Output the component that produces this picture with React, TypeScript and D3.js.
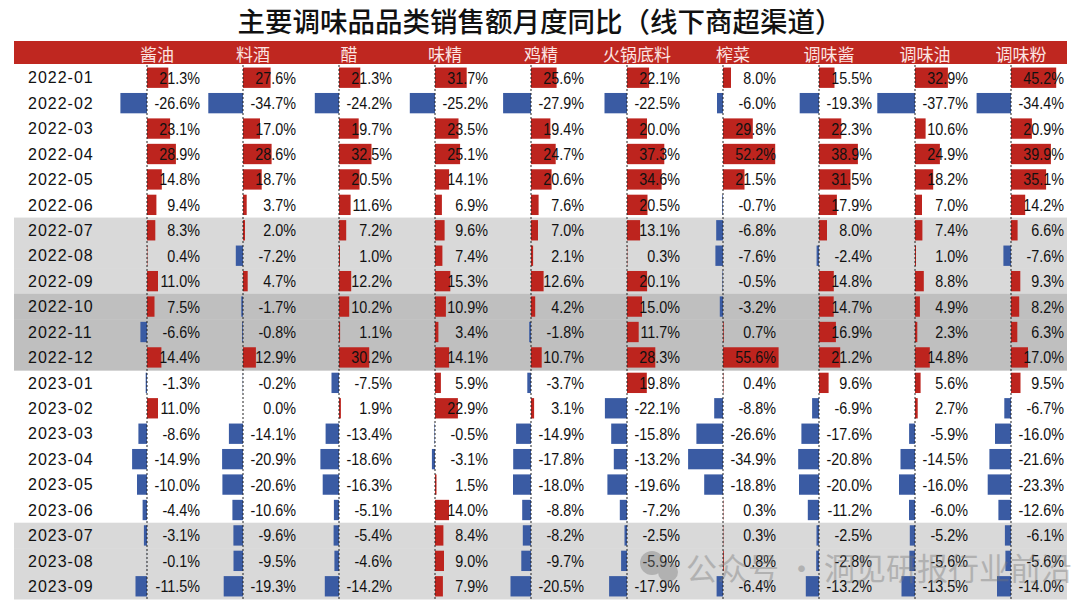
import * as d3 from "d3";

const months = [
  "2022-01", "2022-02", "2022-03", "2022-04", "2022-05", "2022-06",
  "2022-07", "2022-08", "2022-09", "2022-10", "2022-11", "2022-12",
  "2023-01", "2023-02", "2023-03", "2023-04", "2023-05", "2023-06",
  "2023-07", "2023-08", "2023-09",
];

const categories = [
  "酱油", "料酒", "醋", "味精", "鸡精", "火锅底料", "榨菜", "调味酱", "调味油", "调味粉",
];

// 同比（%），按月份顺序
const soySauce = [21.3, -26.6, 23.1, 28.9, 14.8, 9.4, 8.3, 0.4, 11.0, 7.5, -6.6, 14.4, -1.3, 11.0, -8.6, -14.9, -10.0, -4.4, -3.1, -0.1, -11.5];
const cookingWine = [27.6, -34.7, 17.0, 28.6, 18.7, 3.7, 2.0, -7.2, 4.7, -1.7, -0.8, 12.9, -0.2, 0.0, -14.1, -20.9, -20.6, -10.6, -9.6, -9.5, -19.3];
const vinegar = [21.3, -24.2, 19.7, 32.5, 20.5, 11.6, 7.2, 1.0, 12.2, 10.2, 1.1, 30.2, -7.5, 1.9, -13.4, -18.6, -16.3, -5.1, -5.4, -4.6, -14.2];
const msg = [31.7, -25.2, 23.5, 25.1, 14.1, 6.9, 9.6, 7.4, 15.3, 10.9, 3.4, 14.1, 5.9, 22.9, -0.5, -3.1, 1.5, 14.0, 8.4, 9.0, 7.9];
const chickenEssence = [25.6, -27.9, 19.4, 24.7, 20.6, 7.6, 7.0, 2.1, 12.6, 4.2, -1.8, 10.7, -3.7, 3.1, -14.9, -17.8, -18.0, -8.8, -8.2, -9.7, -20.5];
const hotpotBase = [22.1, -22.5, 20.0, 37.3, 34.6, 20.5, 13.1, 0.3, 20.1, 15.0, 11.7, 28.3, 19.8, -22.1, -15.8, -13.2, -19.6, -7.2, -2.5, -5.9, -17.9];
const pickles = [8.0, -6.0, 29.8, 52.2, 21.5, -0.7, -6.8, -7.6, -0.5, -3.2, 0.7, 55.6, 0.4, -8.8, -26.6, -34.9, -18.8, 0.3, 0.3, 0.8, -6.4];
const sauce = [15.5, -19.3, 22.3, 38.9, 31.5, 17.9, 8.0, -2.4, 14.8, 14.7, 16.9, 21.2, 9.6, -6.9, -17.6, -20.8, -20.0, -11.2, -2.5, -2.8, -13.2];
const seasoningOil = [32.9, -37.7, 10.6, 24.9, 18.2, 7.0, 7.4, 1.0, 8.8, 4.9, 2.3, 14.8, 5.6, 2.7, -5.9, -14.5, -16.0, -6.0, -5.2, -5.6, -13.5];
const seasoningPowder = [45.2, -34.4, 20.9, 39.9, 35.1, 14.2, 6.6, -7.6, 9.3, 8.2, 6.3, 17.0, 9.5, -6.7, -16.0, -21.6, -23.3, -12.6, -6.1, -5.6, -14.0];

const seriesValues = [
  soySauce, cookingWine, vinegar, msg, chickenEssence,
  hotpotBase, pickles, sauce, seasoningOil, seasoningPowder,
];

// 灰色底纹行
const lightBandMonths = ["2022-07", "2022-08", "2022-09", "2023-07", "2023-08", "2023-09"];
const darkBandMonths = ["2022-10", "2022-11", "2022-12"];

const title = "主要调味品品类销售额月度同比（线下商超渠道）";

const W = 1080;
const H = 612;
const RED = "#bd241e";
const BLUE = "#3a5ba3";
const HEADER = "#bf2720";

export default function App() {
  const rowScale = d3.scaleBand<string>().domain(months).range([65, 599]).padding(0);
  const barRow = d3.scaleBand<string>().domain(months).range([65, 599]).paddingInner(0.2).paddingOuter(0.1);
  const colScale = d3.scalePoint<string>().domain(categories).range([147, 1011]);
  const barLen = d3.scaleLinear().domain([0, 60]).range([0, 60]);

  const fontNum = "'Liberation Sans', Arial, sans-serif";
  const fontCjk = "'Noto Sans CJK SC', sans-serif";

  return (
    <div style={{ position: "fixed", left: 0, top: 0, width: W, height: H, background: "#fff" }}>
      <svg width={W} height={H} viewBox={`0 0 ${W} ${H}`} style={{ display: "block" }}>
        <rect width={W} height={H} fill="#fff" />

        {/* 标题 */}
        <text
          x={540}
          y={20}
          textAnchor="middle"
          dominantBaseline="central"
          style={{ fontFamily: fontCjk, fontSize: 27.5, fontWeight: 500 }}
          fill="#111"
        >
          {title}
        </text>

        {/* 表头 */}
        <rect x={14} y={41} width={1053} height={23} fill={HEADER} />
        {categories.map((c) => (
          <text
            key={c}
            x={(colScale(c) ?? 0) + 10}
            y={53}
            textAnchor="middle"
            dominantBaseline="central"
            style={{ fontFamily: fontCjk, fontSize: 17 }}
            fill="#fbe4e2"
          >
            {c}
          </text>
        ))}

        {/* 底纹 */}
        {lightBandMonths.map((m) => (
          <rect key={m} x={14} y={rowScale(m)} width={1053} height={rowScale.bandwidth() + 0.5} fill="#d9d9d9" />
        ))}
        {darkBandMonths.map((m) => (
          <rect key={m} x={14} y={rowScale(m)} width={1053} height={rowScale.bandwidth() + 0.5} fill="#bfbfbf" />
        ))}

        {/* 月份 */}
        {months.map((m) => (
          <text
            key={m}
            x={28}
            y={(rowScale(m) ?? 0) + rowScale.bandwidth() / 2}
            dy="0.36em"
            style={{ fontFamily: fontNum, fontSize: 16, letterSpacing: 1 }}
            fill="#111"
          >
            {m}
          </text>
        ))}

        {/* 数据条 */}
        {categories.map((c, ci) => {
          const x0 = colScale(c) ?? 0;
          return (
            <g key={c}>
              {seriesValues[ci].map((v, i) => {
                const m = months[i];
                const len = barLen(Math.abs(v));
                return (
                  <rect
                    key={m}
                    x={v >= 0 ? x0 : x0 - len}
                    y={barRow(m)}
                    width={len}
                    height={barRow.bandwidth()}
                    fill={v >= 0 ? RED : BLUE}
                  />
                );
              })}
              <line x1={x0} x2={x0} y1={65} y2={599} stroke="#222" strokeWidth={1} strokeDasharray="2,2" />
              {seriesValues[ci].map((v, i) => {
                const m = months[i];
                const y = (rowScale(m) ?? 0) + rowScale.bandwidth() / 2;
                return (
                  <g key={m} transform={`translate(${x0 + 53},${y}) scale(0.87,1)`}>
                    <text
                      textAnchor="end"
                      dy="0.36em"
                      style={{ fontFamily: fontNum, fontSize: 16.5 }}
                      fill="#111"
                    >
                      {v.toFixed(1)}%
                    </text>
                  </g>
                );
              })}
            </g>
          );
        })}

        {/* 水印 */}
        <g opacity={0.4}>
          <circle cx={652} cy={563} r={12} fill="#777" />
          <circle cx={668} cy={572} r={10} fill="#777" />
          <text
            x={686}
            y={566}
            dominantBaseline="central"
            style={{ fontFamily: fontCjk, fontSize: 31 }}
            fill="#777"
          >
            公众号 · 洞见研报行业前沿
          </text>
        </g>
      </svg>
    </div>
  );
}
